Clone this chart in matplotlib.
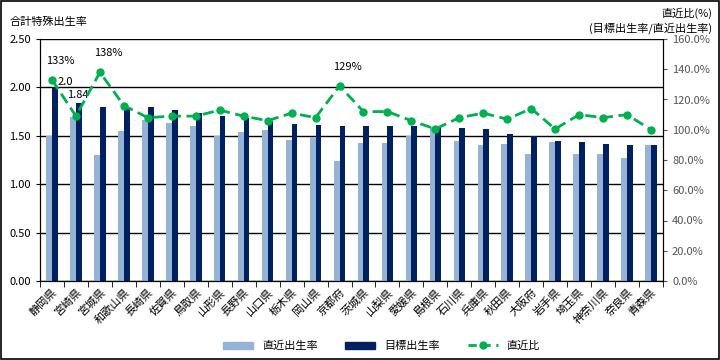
import numpy as np
import matplotlib
matplotlib.use('Agg')
import matplotlib.pyplot as plt
from matplotlib.patches import Patch, Rectangle
from matplotlib.lines import Line2D
from matplotlib.ticker import FuncFormatter, MultipleLocator

plt.rcParams['font.family'] = ['Noto Sans CJK JP', 'DejaVu Sans']
plt.rcParams['font.size'] = 8

# data
prefs = ['静岡県', '宮崎県', '宮城県', '和歌山県', '長崎県', '佐賀県', '鳥取県', '山形県',
         '長野県', '山口県', '栃木県', '岡山県', '京都府', '茨城県', '山梨県', '愛媛県',
         '島根県', '石川県', '兵庫県', '秋田県', '大阪府', '岩手県', '埼玉県', '神奈川県',
         '奈良県', '青森県']
recent = [1.50, 1.69, 1.30, 1.55, 1.66, 1.63, 1.60, 1.50, 1.54, 1.56, 1.46, 1.49, 1.24,
          1.43, 1.43, 1.50, 1.59, 1.45, 1.41, 1.42, 1.31, 1.44, 1.31, 1.31, 1.27, 1.40]
target = [2.00, 1.84, 1.80, 1.80, 1.80, 1.77, 1.74, 1.70, 1.68, 1.65, 1.62, 1.61, 1.60,
          1.60, 1.60, 1.60, 1.60, 1.58, 1.57, 1.52, 1.50, 1.45, 1.44, 1.42, 1.40, 1.40]
ratio = [133, 109, 138, 116, 108, 109, 109, 113, 109, 106, 111, 108, 129,
         112, 112, 106, 100.5, 108, 111, 107, 114, 100.5, 110, 108, 110, 100]

light = '#95B3D7'
dark = '#002060'
green = '#00B050'

fig = plt.figure(figsize=(7.2, 3.6), dpi=100)
ax = fig.add_axes([40 / 720, 1 - 281 / 360, 623 / 720, 242 / 360])
ax2 = ax.twinx()

x = np.arange(len(prefs))
w = 0.24
ax.bar(x - w / 2, recent, width=w, color=light, zorder=2)
ax.bar(x + w / 2, target, width=w, color=dark, zorder=2)

ax.set_xlim(-0.5, len(prefs) - 0.5)
ax.set_ylim(0, 2.5)
ax.yaxis.set_major_locator(MultipleLocator(0.5))
ax.yaxis.set_major_formatter(FuncFormatter(lambda v, p: f'{v:.2f}'))
ax.grid(axis='y', color='black', lw=1, zorder=1)
ax.set_xticks(x)
ax.set_xticklabels(prefs, rotation=45, ha='right', rotation_mode='anchor', fontsize=8)
ax.set_xticks(np.arange(-0.5, len(prefs)), minor=True)
ax.tick_params(axis='x', which='major', length=0, pad=4)
ax.tick_params(axis='x', which='minor', length=4, direction='out')
ax.tick_params(axis='y', length=3, direction='out')
for s in ['top']:
    ax.spines[s].set_visible(False)
ax2.spines['top'].set_visible(False)

ax2.plot(x, ratio, color=green, lw=2, dashes=(4, 2), marker='o', ms=5, zorder=3)
ax2.set_ylim(0, 160)
ax2.yaxis.set_major_locator(MultipleLocator(20))
ax2.yaxis.set_major_formatter(FuncFormatter(lambda v, p: f'{v:.1f}%'))
ax2.tick_params(axis='y', length=3, direction='out', colors='#555555', labelcolor='#555555')
ax2.spines['right'].set_color('black')

# data labels
for i in [0, 2, 12]:
    ax2.annotate(f'{ratio[i]:.0f}%', (x[i], ratio[i]), xytext=(6, 10),
                 textcoords='offset points', ha='center', va='bottom', fontsize=8)
ax.annotate(f'{target[0]:.1f}', (x[0] + w / 2, target[0]), xytext=(2, 0),
            textcoords='offset points', ha='left', va='bottom', fontsize=8)
ax.annotate(f'{target[1]:.2f}', (x[1] + w / 2, target[1]), xytext=(-1, 2),
            textcoords='offset points', ha='center', va='bottom', fontsize=8)

fig.text(10 / 720, 1 - 22 / 360, '合計特殊出生率', ha='left', va='center', fontsize=8)
fig.text(712 / 720, 1 - 13 / 360, '直近比(%)', ha='right', va='center', fontsize=8)
fig.text(712 / 720, 1 - 28 / 360, '(目標出生率/直近出生率)', ha='right', va='center', fontsize=8)

handles = [Patch(color=light), Patch(color=dark),
           Line2D([], [], color=green, lw=2, dashes=(3, 2), marker='o', ms=5)]
fig.legend(handles, ['直近出生率', '目標出生率', '直近比'], loc='center',
           bbox_to_anchor=(0.53, 1 - 346 / 360), ncol=3, frameon=False,
           handlelength=2.7, handleheight=0.6, columnspacing=2.5, fontsize=8)

fig.patches.append(Rectangle((0.001, 0.002), 0.997, 0.995, transform=fig.transFigure,
                             fill=False, edgecolor='black', lw=1.2))

fig.savefig('out.png', dpi=100)
